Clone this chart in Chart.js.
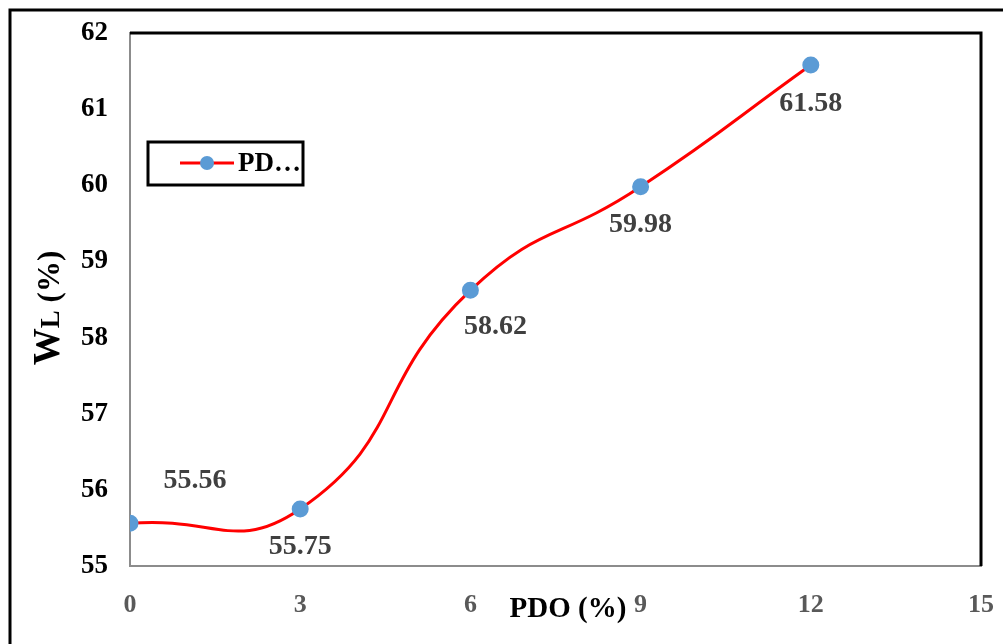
<!DOCTYPE html>
<html lang="en">
<head>
    <meta charset="UTF-8">
    <title>WL vs PDO</title>
    <style>
        body { margin: 0; background: white; }
        #wrap { position: relative; width: 1003px; height: 644px; }
    </style>
</head>
<body>
    <div id="wrap"><canvas id="grafico" width="1003" height="644"></canvas></div>

    <script src="https://cdn.jsdelivr.net/npm/chart.js"></script>
    <script>
        // dados do gráfico
        const pdo = [0, 3, 6, 9, 12];
        const wl = [55.56, 55.75, 58.62, 59.98, 61.58];
        const xTicks = [0, 3, 6, 9, 12, 15];
        const yTicks = [55, 56, 57, 58, 59, 60, 61, 62];
        const legendText = 'PD\u2026';
        const xTitle = 'PDO (%)';

        const serif = "'Liberation Serif', 'Times New Roman', serif";

        // deslocamento dos rótulos em relação ao ponto (px)
        const labelShift = [[65, -43], [0, 38], [25, 36], [0, 38], [0, 39]];

        const extras = {
            id: 'extras',
            beforeDraw(chart) {
                const c = chart.ctx;
                c.save();
                c.fillStyle = 'white';
                c.fillRect(0, 0, chart.width, chart.height);
                // moldura externa
                c.strokeStyle = 'black';
                c.lineWidth = 3;
                c.strokeRect(10, 10, 1010, 650);
                c.restore();
            },
            afterDatasetsDraw(chart) {
                const c = chart.ctx;
                const a = chart.chartArea;
                const xs = chart.scales.x, ys = chart.scales.y;
                c.save();
                // borda superior e direita da área
                c.strokeStyle = 'black';
                c.lineWidth = 3;
                c.beginPath();
                c.moveTo(a.left, a.top);
                c.lineTo(a.right, a.top);
                c.lineTo(a.right, a.bottom);
                c.stroke();

                // rótulos de dados
                c.font = 'bold 28px ' + serif;
                c.fillStyle = '#404040';
                c.textAlign = 'center';
                c.textBaseline = 'middle';
                wl.forEach((v, i) => {
                    const px = xs.getPixelForValue(pdo[i]);
                    const py = ys.getPixelForValue(v);
                    c.fillText(v.toFixed(2), px + labelShift[i][0], py + labelShift[i][1]);
                });

                // legenda
                c.strokeStyle = 'black';
                c.lineWidth = 3;
                c.strokeRect(148, 142, 155, 43);
                c.strokeStyle = 'red';
                c.lineWidth = 3;
                c.beginPath();
                c.moveTo(180, 163);
                c.lineTo(234, 163);
                c.stroke();
                c.fillStyle = '#5B9BD5';
                c.beginPath();
                c.arc(207, 163, 7, 0, Math.PI * 2);
                c.fill();
                c.fillStyle = 'black';
                c.textAlign = 'left';
                c.font = 'bold 27px ' + serif;
                c.fillText(legendText, 238, 164);

                // título do eixo x
                c.textAlign = 'center';
                c.font = 'bold 29px ' + serif;
                c.fillText(xTitle, 568, 610);

                // título do eixo y: W com L menor
                c.translate(47, 308);
                c.rotate(-Math.PI / 2);
                const parts = [['W', 37], ['L', 27], [' (%)', 31]];
                let total = 0;
                parts.forEach(p => { c.font = 'bold ' + p[1] + 'px ' + serif; total += c.measureText(p[0]).width; });
                let x = -total / 2;
                c.textAlign = 'left';
                c.textBaseline = 'alphabetic';
                parts.forEach(p => {
                    c.font = 'bold ' + p[1] + 'px ' + serif;
                    c.fillText(p[0], x, 12);
                    x += c.measureText(p[0]).width;
                });
                c.restore();
            }
        };

        const ctx = document.getElementById('grafico').getContext('2d');
        new Chart(ctx, {
            type: 'line',
            data: {
                datasets: [{
                    label: 'PDO',
                    data: pdo.map((x, i) => ({ x: x, y: wl[i] })),
                    borderColor: 'red',
                    borderWidth: 3,
                    tension: 0.5,
                    pointRadius: 7,
                    pointBackgroundColor: '#5B9BD5',
                    pointBorderColor: '#5B9BD5',
                    fill: false
                }]
            },
            options: {
                responsive: false,
                animation: false,
                layout: { padding: { top: 33, right: 22, left: 0, bottom: 0 } },
                plugins: { legend: { display: false }, tooltip: { enabled: false } },
                scales: {
                    x: {
                        type: 'linear',
                        min: 0, max: 15,
                        afterBuildTicks: s => { s.ticks = xTicks.map(v => ({ value: v })); },
                        afterFit: s => { s.height = 78; s.paddingLeft = 0; s.paddingRight = 0; },
                        grid: { display: false, drawTicks: false },
                        border: { color: '#8c8c8c', width: 2 },
                        ticks: {
                            padding: 24,
                            color: '#595959',
                            font: { family: serif, size: 26, weight: 'bold' }
                        }
                    },
                    y: {
                        min: 55, max: 62,
                        afterBuildTicks: s => { s.ticks = yTicks.map(v => ({ value: v })); },
                        afterFit: s => { s.width = 130; s.paddingTop = 0; s.paddingBottom = 0; },
                        grid: { display: false, drawTicks: false },
                        border: { color: '#8c8c8c', width: 2 },
                        ticks: {
                            padding: 22,
                            color: 'black',
                            font: { family: serif, size: 27, weight: 'bold' }
                        }
                    }
                }
            },
            plugins: [extras]
        });
    </script>
</body>
</html>
